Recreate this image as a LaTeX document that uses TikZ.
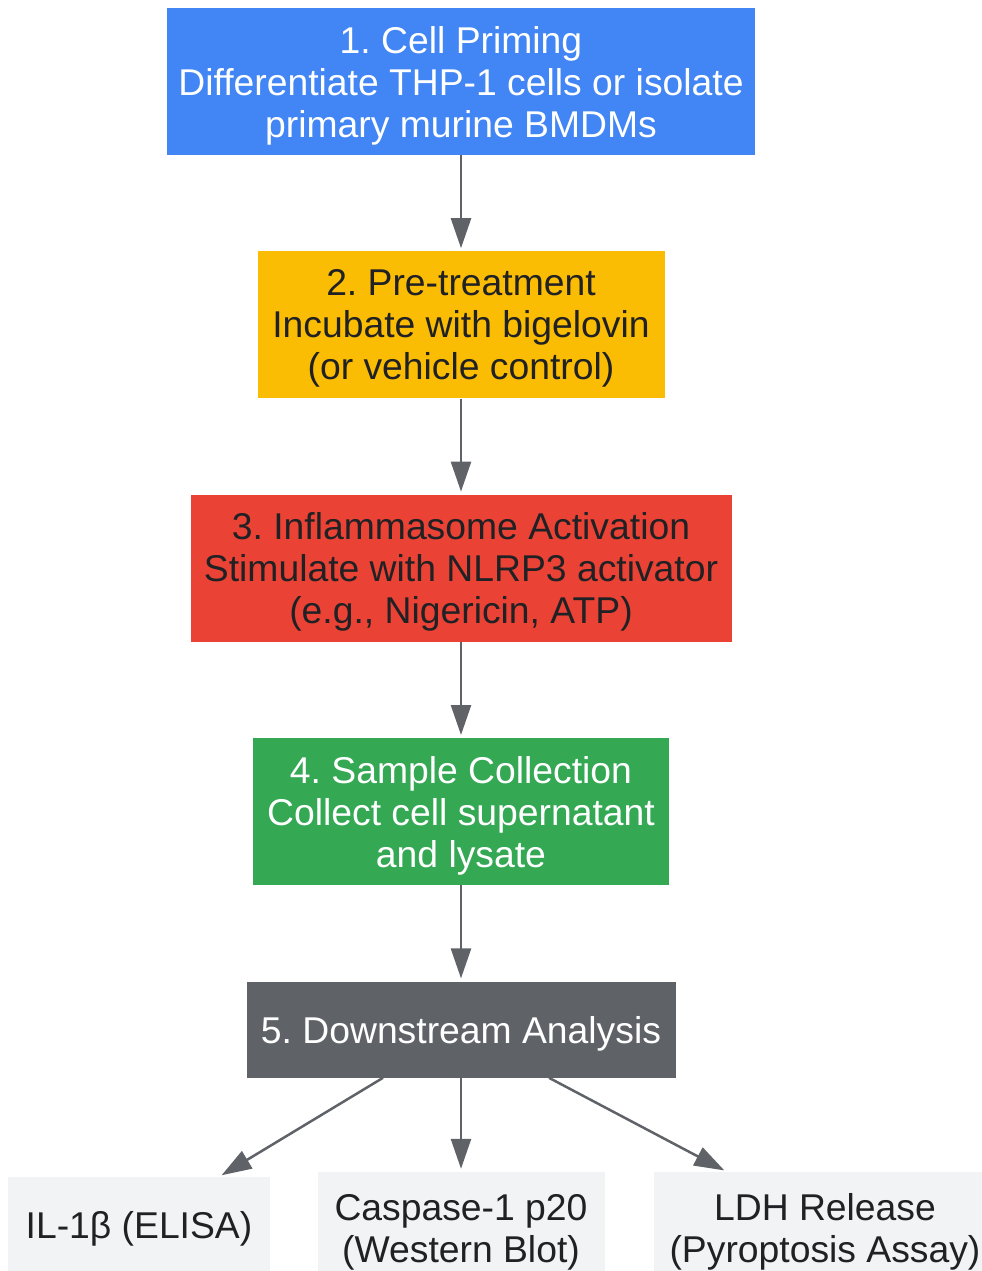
\documentclass[tikz,border=0pt]{standalone}
\usepackage{fontspec}
\setmainfont{Liberation Sans}
\usetikzlibrary{positioning,arrows.meta}
\definecolor{gblue}{HTML}{4285F4}
\definecolor{gyellow}{HTML}{FBBC04}
\definecolor{gred}{HTML}{EA4335}
\definecolor{ggreen}{HTML}{34A853}
\definecolor{ggray}{HTML}{5F6368}
\definecolor{glight}{HTML}{F1F3F4}
\definecolor{gdark}{HTML}{202124}
\frenchspacing

\begin{document}
\begin{tikzpicture}[x=1pt, y=-1pt,
	stepbox/.style={rectangle, align=center, inner sep=0pt, text depth=0pt, minimum height=147pt, font=\fontsize{37.3}{42}\selectfont},
	outbox/.style={stepbox, fill=glight, text=gdark, minimum height=112pt},
	link/.style={draw=ggray, line width=2.5pt, -{Triangle[length=30pt,width=20pt]}, shorten >=3pt}]
	\useasboundingbox (0,0) rectangle (982,1271);
	\node[stepbox, fill=gblue, text=white, minimum width=588pt] (prime) at (461,81.5)
		{1. Cell Priming\\Differentiate THP-1 cells or isolate\\primary murine BMDMs};
	\node[stepbox, fill=gyellow, text=gdark, minimum width=407pt, below=96pt of prime] (pretreat)
		{2. Pre-treatment\\Incubate with bigelovin\\(or vehicle control)};
	\node[stepbox, fill=gred, text=gdark, minimum width=541pt, below=96pt of pretreat] (activate)
		{3. Inflammasome Activation\\Stimulate with NLRP3 activator\\(e.g., Nigericin, ATP)};
	\node[stepbox, fill=ggreen, text=white, minimum width=416pt, below=96pt of activate] (collect)
		{4. Sample Collection\\Collect cell supernatant\\and lysate};
	\node[stepbox, fill=ggray, text=white, minimum width=429pt, minimum height=96pt, below=96pt of collect] (analysis)
		{5. Downstream Analysis};
	% readouts
	\node[outbox, minimum width=262pt, minimum height=96pt] (elisa) at (139,1225) {IL-1β (ELISA)};
	\node[outbox, minimum width=287pt] (wblot) at (461,1228) {Caspase-1 p20\\(Western Blot)};
	\node[outbox, minimum width=342pt] (ldh) at (825,1228) {LDH Release\\(Pyroptosis Assay)};

	\draw[link] (prime) -- (pretreat);
	\draw[link] (pretreat) -- (activate);
	\draw[link] (activate) -- (collect);
	\draw[link] (collect) -- (analysis);
	\draw[link] ([xshift=-78pt]analysis.south) -- ([xshift=80pt]elisa.north);
	\draw[link] (analysis) -- (wblot);
	\draw[link] ([xshift=88pt]analysis.south) -- ([xshift=-98pt]ldh.north);
\end{tikzpicture}
\end{document}
